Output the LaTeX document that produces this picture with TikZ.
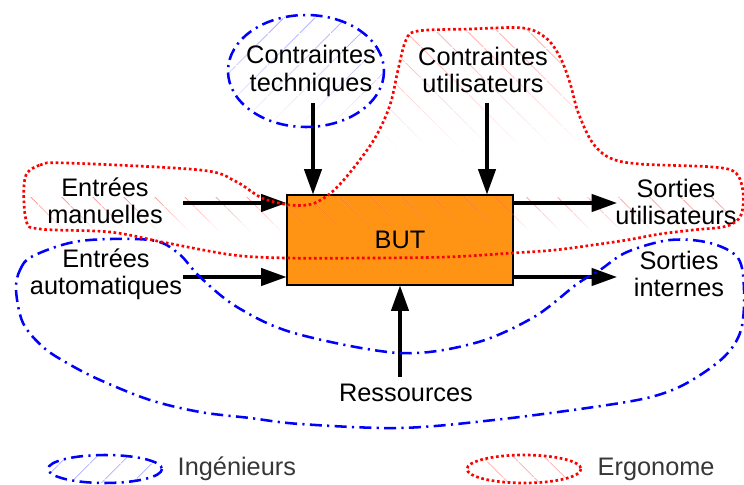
\documentclass[tikz,border=0pt]{standalone}
\usepackage{fontspec}
\setmainfont{Liberation Sans}
\usetikzlibrary{arrows.meta, patterns.meta, fadings}

\definecolor{butorange}{RGB}{255,148,20}
\definecolor{legendgray}{RGB}{55,55,55}
\tikzfading[name=hatchfade, top color=transparent!10, bottom color=transparent!100]

\begin{document}
\begin{tikzpicture}[
    x=0.75pt, y=-0.75pt,
    every node/.style={font=\fontsize{19}{20.5}\selectfont, align=center},
    butbox/.style    ={draw=black, line width=0.8pt, fill=butorange,
                       minimum width=169.5pt, minimum height=67.5pt},
    flow/.style      ={-{Triangle[length=19pt, width=13pt]}, line width=2.4pt},
    ingline/.style   ={draw=blue, line width=1.9pt,
                       dash pattern=on 9pt off 4pt on 1.6pt off 4pt},
    ergline/.style   ={draw=red, line width=2pt, dash pattern=on 2pt off 2pt},
    inghatch/.style  ={pattern={Lines[angle=45, distance=17pt, line width=0.6pt]},
                       pattern color=blue!70},
    erghatch/.style  ={pattern={Lines[angle=-45, distance=17pt, line width=0.6pt]},
                       pattern color=red!70},
    legendtext/.style={text=legendgray, anchor=west}
]
\useasboundingbox (0,0) rectangle (744,485);

% ---------- outlines of the two zones ----------
\def\ergpath{plot[smooth cycle, tension=0.55] coordinates {
    (25,178) (40,165) (67,163) (200,170) (235,181) (262,198) (290,205)
    (312,204) (332,192) (352,170) (375,138) (390,105) (398,70) (406,40)
    (418,31) (470,29) (523,28) (546,38) (560,57) (570,83) (578,112)
    (592,142) (610,158) (640,164) (713,167) (736,173) (743,192) (741,215)
    (727,226) (693,230) (660,234) (627,240) (593,245) (555,250) (513,253)
    (447,257) (370,258) (287,258) (233,255) (167,243) (110,232) (40,229)
    (26,220)}}
\def\ingpath{plot[smooth cycle, tension=0.55] coordinates {
    (16,290) (20,270) (33,256) (80,241) (150,240) (178,253) (200,277)
    (237,307) (294,333) (399,353) (475,343) (534,317) (577,284) (600,270)
    (627,252) (670,240) (710,243) (738,258) (744,290) (741,330) (724,357)
    (687,383) (651,397) (594,407) (494,420) (400,428) (300,424) (250,418)
    (200,412) (150,400) (100,380) (67,363) (43,347) (23,323)}}

% ---------- central block ----------
\node[butbox] (but) at (400,240) {BUT};

% ---------- hatching, fading out downwards ----------
\begin{scope}
    \clip \ergpath;
    \fill[erghatch, path fading=hatchfade] (385,25) rectangle (600,150);
    \fill[erghatch, path fading=hatchfade] (20,198) rectangle (744,232);
\end{scope}
\begin{scope}
    \clip (306,71) ellipse [x radius=78, y radius=56];
    \fill[inghatch, path fading=hatchfade] (228,15) rectangle (385,127);
\end{scope}

% ---------- labels ----------
\node (ctech) at (311,71)  {Contraintes\\techniques};
\node (cuser) at (483,70)  {Contraintes\\utilisateurs};
\node (eman)  at (105,201) {Entrées\\manuelles};
\node (eauto) at (106,274) {Entrées\\automatiques};
\node (sout)  at (676,202) {Sorties\\utilisateurs};
\node (sint)  at (679,274) {Sorties\\internes};
\node (ress)  at (406,393) {Ressources};

% ---------- free ends of the flows ----------
\coordinate (ctechout) at (313,103);
\coordinate (cuserout) at (487,103);
\coordinate (emanout)  at (183,203);
\coordinate (eautoout) at (183,277);
\coordinate (soutin)   at (617,203);
\coordinate (sintin)   at (617,277);
\coordinate (ressout)  at (400,377);

% ---------- flows ----------
\draw[flow] (ctechout) -- (ctechout |- but.north);
\draw[flow] (cuserout) -- (cuserout |- but.north);
\draw[flow] (emanout)  -- (emanout -| but.west);
\draw[flow] (eautoout) -- (eautoout -| but.west);
\draw[flow] (soutin -| but.east) -- (soutin);
\draw[flow] (sintin -| but.east) -- (sintin);
\draw[flow] (ressout)  -- (ressout |- but.south);

% ---------- zone borders ----------
\draw[ingline] (306,71) ellipse [x radius=78, y radius=56];
\draw[ingline] \ingpath;
\draw[ergline] \ergpath;

% ---------- legend ----------
\begin{scope}
    \clip (105,469) ellipse [x radius=57, y radius=14];
    \fill[inghatch, pattern color=blue!40] (48,455) rectangle (162,483);
\end{scope}
\draw[ingline] (105,469) ellipse [x radius=57, y radius=14];
\node[legendtext] (leging) at (173,469) {Ingénieurs};
\begin{scope}
    \clip (524,469) ellipse [x radius=57, y radius=14];
    \fill[erghatch, pattern color=red!40] (467,455) rectangle (581,483);
\end{scope}
\draw[ergline] (524,469) ellipse [x radius=57, y radius=14];
\node[legendtext] (legerg) at (593,469) {Ergonome};

\end{tikzpicture}
\end{document}
